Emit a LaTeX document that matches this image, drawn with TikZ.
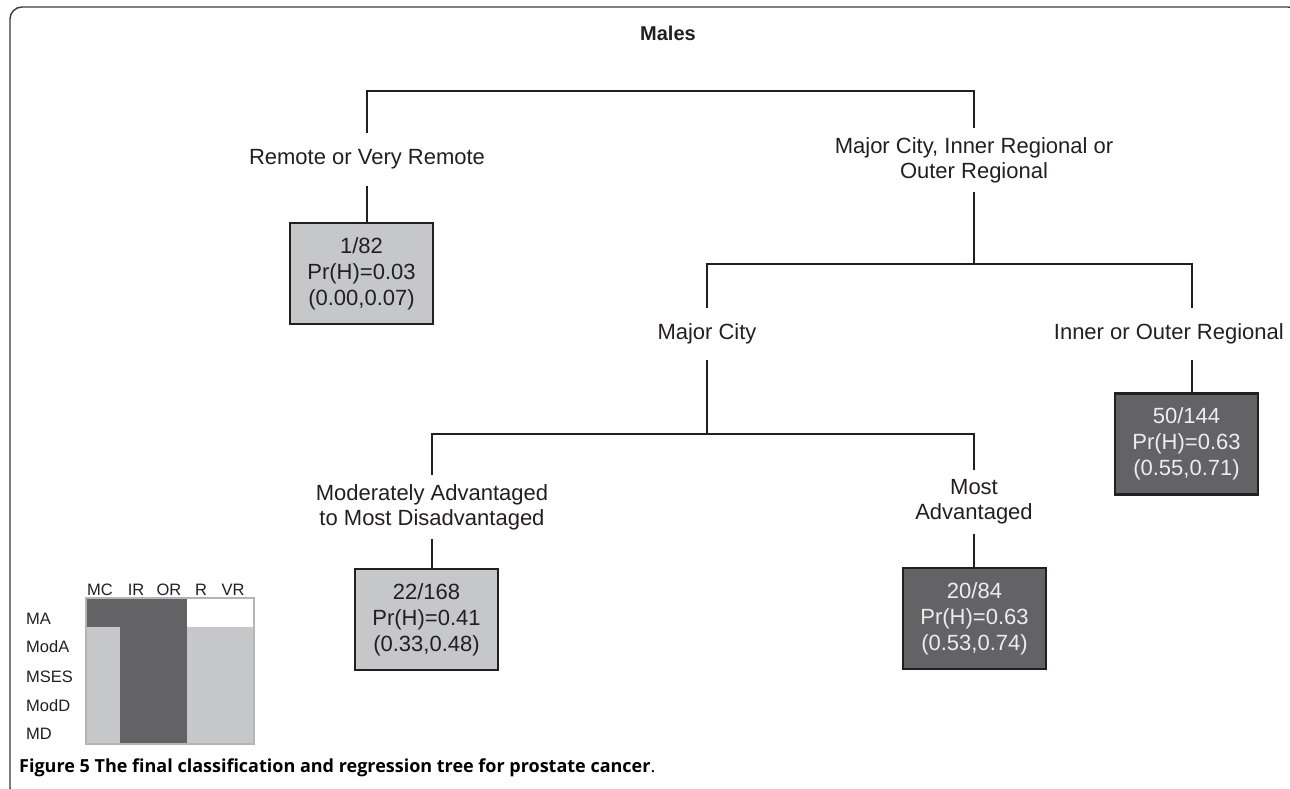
\documentclass[tikz,border=0pt]{standalone}
\usepackage{fontspec}
\setmainfont{Liberation Sans}
\newfontfamily\capfont{Open Sans}
\definecolor{ink}{HTML}{231F20}
\definecolor{lightbox}{HTML}{C6C7C9}
\definecolor{darkbox}{HTML}{636365}
\definecolor{gridedge}{HTML}{B4B5B7}
\definecolor{frameink}{HTML}{3A3A3A}
\begin{document}
\begin{tikzpicture}[x=1pt,y=-1pt,
  conn/.style={draw=ink, line width=2.4pt},
  lbl/.style={font=\fontsize{22}{25}\selectfont, text=ink, align=center, inner sep=0pt},
  oneline/.style={lbl, minimum height=52pt},
  twoline/.style={lbl, minimum height=64pt},
  leaf/.style={draw=ink, line width=2.6pt, minimum width=143pt, minimum height=101pt,
    inner sep=0pt, align=center, font=\fontsize{22}{26}\selectfont},
  lightleaf/.style={leaf, fill=lightbox, text=ink},
  darkleaf/.style={leaf, fill=darkbox, text=white!93!black},
  legtext/.style={font=\fontsize{16.5}{18}\selectfont, text=ink, inner sep=0pt},
]
\useasboundingbox (0,0) rectangle (1290,788);
% frame
\draw[frameink, line width=1.4pt, rounded corners=12pt] (1300,40) |- (10,7) |- (40,800);
% title
\node[font=\bfseries\fontsize{20}{22}\selectfont, text=ink] (title) at (668,33) {Males};
% labels
\node[oneline] (rem) at (367,159.5) {Remote or Very Remote};
\node[twoline] (mcir) at (974,160) {Major City, Inner Regional or\\Outer Regional};
\node[oneline] (mc) at (707,334) {Major City};
\node[oneline, anchor=east] (ior) at (1284,334) {Inner or Outer Regional};
\node[twoline] (mad) at (432,507) {Moderately Advantaged\\to Most Disadvantaged};
\node[twoline] (most) at (974,502) {Most\\Advantaged};
% leaves
\node[lightleaf] (b1) at (361.5,273.5) {1/82\\Pr(H)=0.03\\(0.00,0.07)};
\node[darkleaf] (b2) at (1186.5,444) {50/144\\Pr(H)=0.63\\(0.55,0.71)};
\node[lightleaf] (b3) at (426.5,619.5) {22/168\\Pr(H)=0.41\\(0.33,0.48)};
\node[darkleaf] (b4) at (974.5,618.5) {20/84\\Pr(H)=0.63\\(0.53,0.74)};
% split points
\coordinate (s1) at (670,91);
\coordinate (s2) at (974,264);
\coordinate (s3) at (707,434);
\coordinate (iorx) at (1192,0);
% connectors
\draw[conn] (rem.north) |- (s1) -| (mcir.north);
\draw[conn] (mcir.south) -- (s2);
\draw[conn] (mc.north) |- (s2) -| (iorx |- ior.north);
\draw[conn] (mc.south) -- (s3);
\draw[conn] (mad.north) |- (s3) -| (most.north);
\draw[conn] (rem.south) -- (rem.south |- b1.north);
\draw[conn] (iorx |- ior.south) -- (iorx |- b2.north);
\draw[conn] (mad.south) -- (mad.south |- b3.north);
\draw[conn] (most.south) -- (most.south |- b4.north);
% legend grid
\fill[lightbox] (86,598) rectangle (254,744);
\fill[white] (187,598) rectangle (254,627);
\fill[darkbox] (86,598) rectangle (187,627);
\fill[darkbox] (120,598) rectangle (187,744);
\draw[gridedge, line width=1.3pt] (86,598) rectangle (254,744);
\node[legtext] (cMC) at (100,590) {MC};
\node[legtext] (cIR) at (136,590) {IR};
\node[legtext] (cOR) at (169,590) {OR};
\node[legtext] (cR) at (201,590) {R};
\node[legtext] (cVR) at (233,590) {VR};
\node[legtext, anchor=west] (rMA) at (26,619) {MA};
\node[legtext, anchor=west] (rModA) at (26,647) {ModA};
\node[legtext, anchor=west] (rMSES) at (26,677) {MSES};
\node[legtext, anchor=west] (rModD) at (26,706) {ModD};
\node[legtext, anchor=west] (rMD) at (26,734) {MD};
% caption
\node[anchor=west, inner sep=0pt, text=black, font=\capfont\fontsize{18}{20}\selectfont] (cap) at (19,768)
  {\textbf{Figure 5 The final classification and regression tree for prostate cancer}.};
\end{tikzpicture}
\end{document}
